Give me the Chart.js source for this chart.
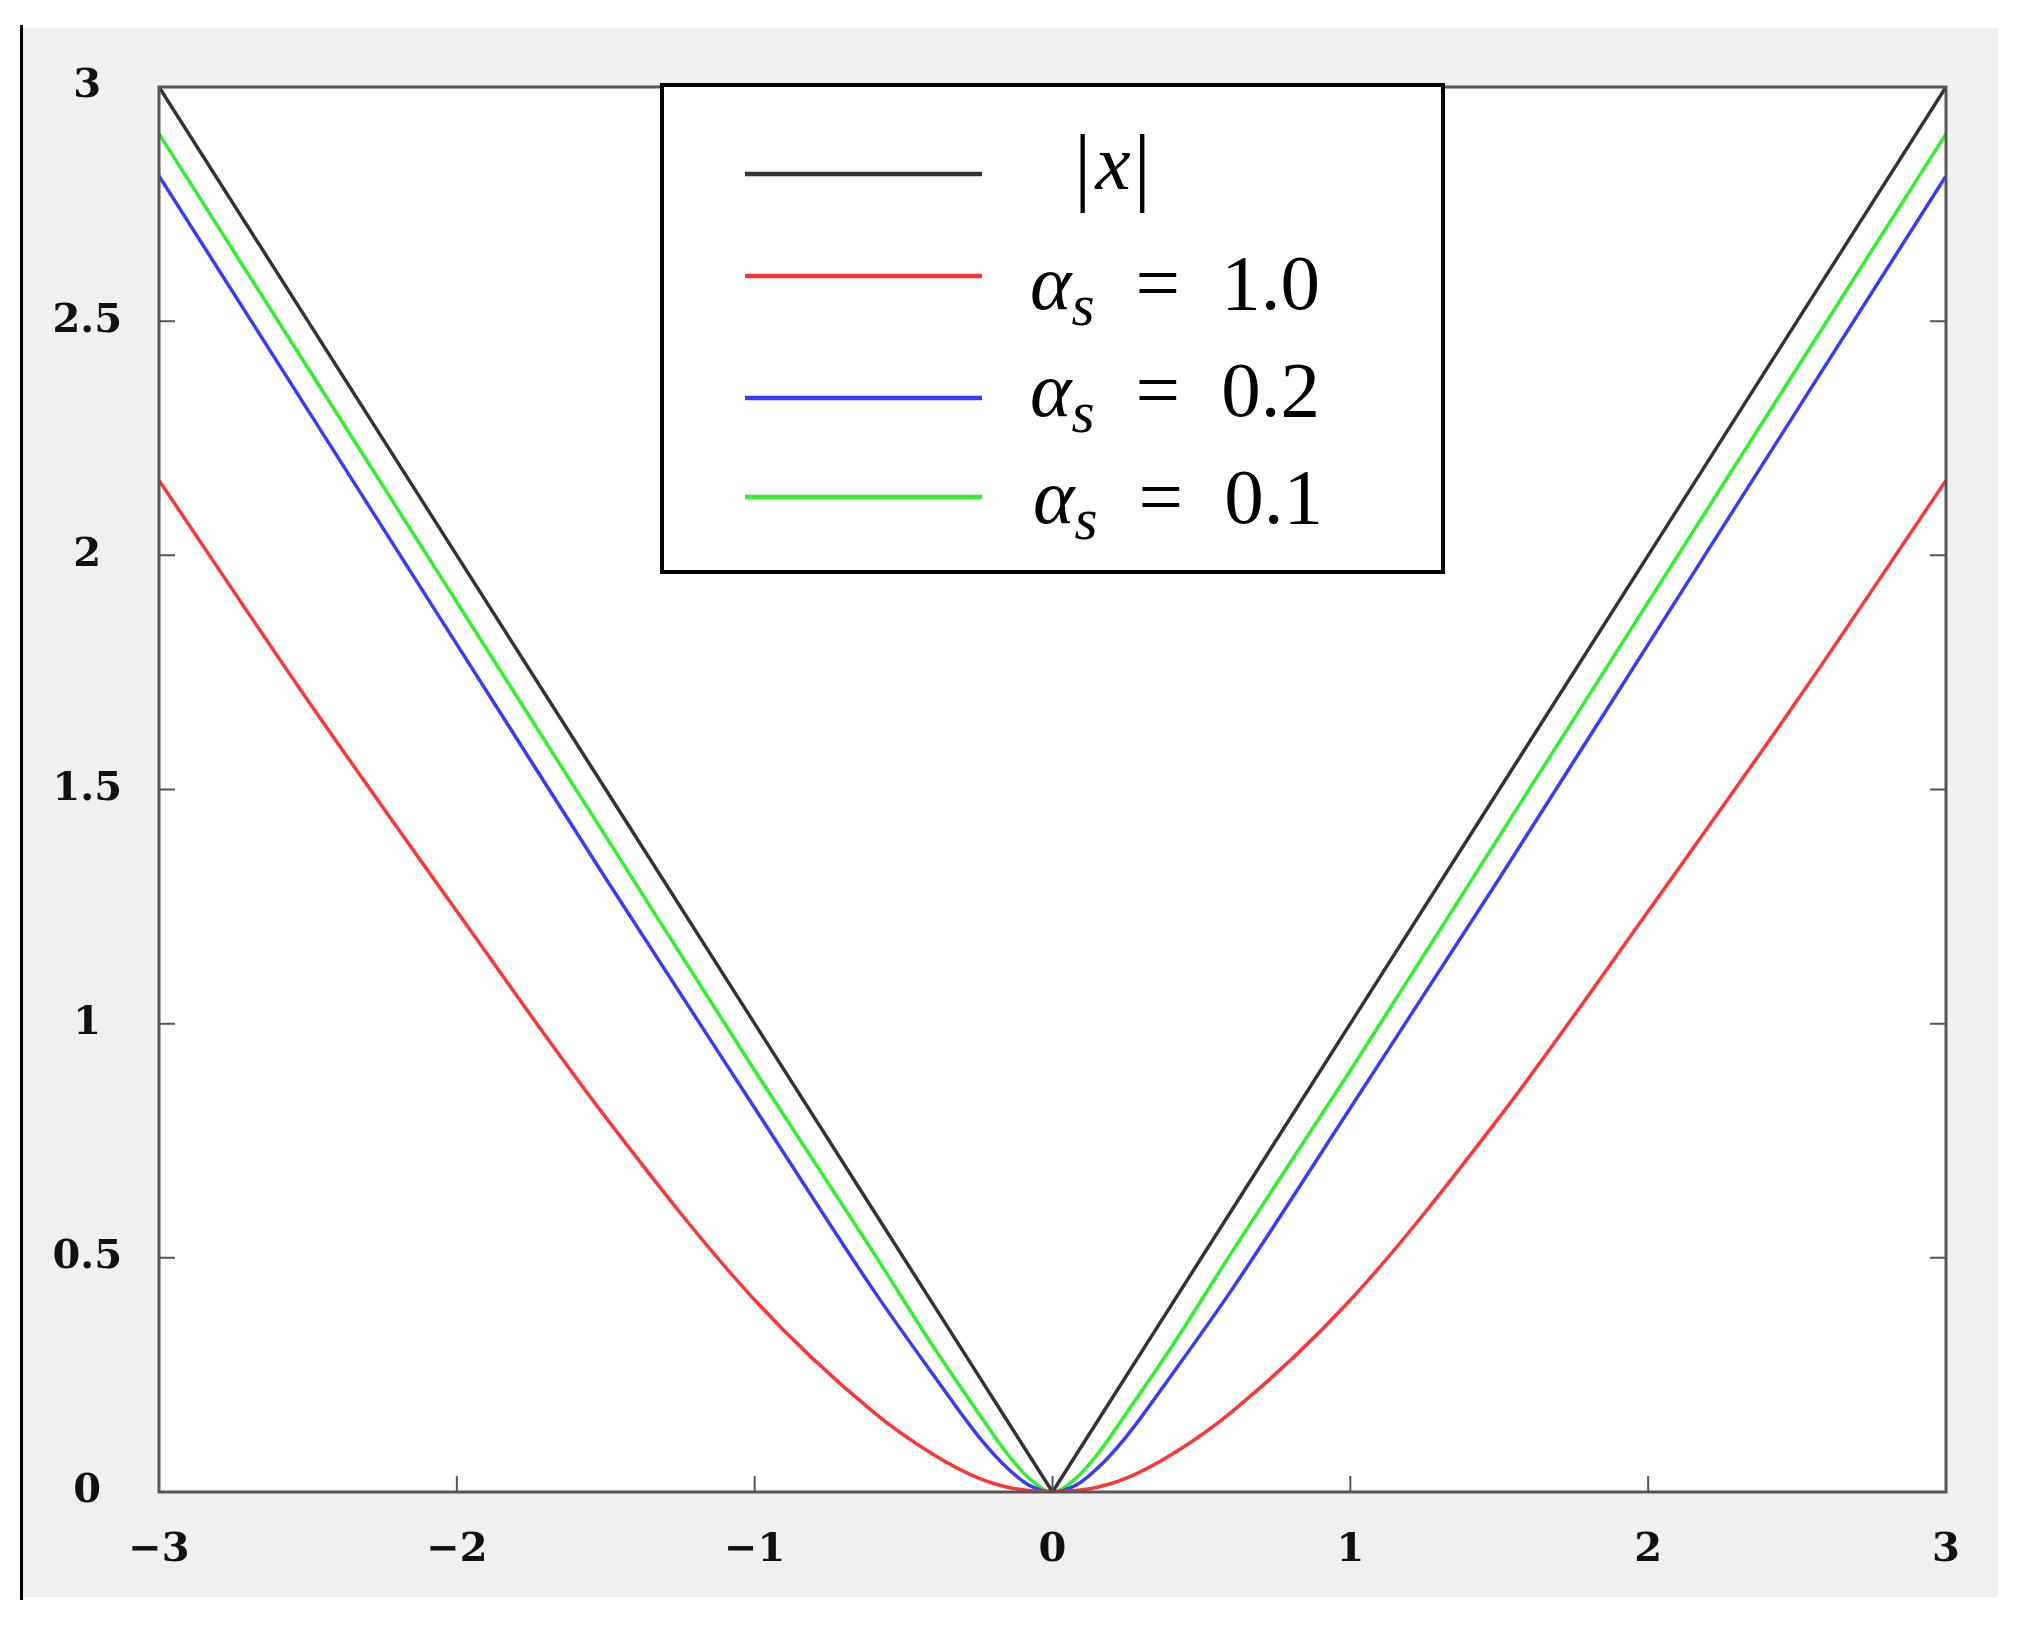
<!DOCTYPE html>
<html>
<head>
<meta charset="utf-8">
<script src="https://cdn.jsdelivr.net/npm/chart.js@4.4.1/dist/chart.umd.min.js"></script>
<style>
  html, body { margin: 0; padding: 0; background: #fff; }
  #contenedor { width: 2025px; height: 1633px; }
</style>
</head>
<body>
<div id="contenedor"><canvas id="grafico" width="2025" height="1633"></canvas></div>
<script>
// Valores
const xs = [-3, -2.5, -2, -1.5, -1, -0.6, -0.4, -0.25, -0.15, -0.08, 0, 0.08, 0.15, 0.25, 0.4, 0.6, 1, 1.5, 2, 2.5, 3];
const serieAbs = [3, 2.5, 2, 1.5, 1, 0.6, 0.4, 0.25, 0.15, 0.08, 0, 0.08, 0.15, 0.25, 0.4, 0.6, 1, 1.5, 2, 2.5, 3];
const serieA10 = [2.16, 1.69, 1.24, 0.80, 0.41, 0.17, 0.08, 0.03, 0.01, 0.003, 0, 0.003, 0.01, 0.03, 0.08, 0.17, 0.41, 0.80, 1.24, 1.69, 2.16];
const serieA02 = [2.81, 2.31, 1.81, 1.31, 0.82, 0.43, 0.25, 0.12, 0.05, 0.015, 0, 0.015, 0.05, 0.12, 0.25, 0.43, 0.82, 1.31, 1.81, 2.31, 2.81];
const serieA01 = [2.90, 2.40, 1.90, 1.40, 0.90, 0.51, 0.31, 0.17, 0.08, 0.03, 0, 0.03, 0.08, 0.17, 0.31, 0.51, 0.90, 1.40, 1.90, 2.40, 2.90];

const etiquetas = ['|x|', 'α_s = 1.0', 'α_s = 0.2', 'α_s = 0.1'];
const colores = ['#333333', '#ff3535', '#3a3aff', '#2ef02e'];
const xTicks = [-3, -2, -1, 0, 1, 2, 3];
const yTicks = [0, 0.5, 1, 1.5, 2, 2.5, 3];

const puntos = serie => xs.map((x, i) => ({ x: x, y: serie[i] }));

// Fondo gris y línea negra a la izquierda
const fondo = {
  id: 'fondo',
  beforeDraw(chart) {
    const c = chart.ctx, a = chart.chartArea;
    c.save();
    c.fillStyle = '#ffffff';
    c.fillRect(0, 0, chart.width, chart.height);
    c.fillStyle = '#f0f0f0';
    c.fillRect(21, 28, 1977, 1569);
    c.fillStyle = '#000000';
    c.fillRect(20, 25, 3, 1575);
    c.fillStyle = '#ffffff';
    c.fillRect(a.left, a.top, a.right - a.left, a.bottom - a.top);
    c.restore();
  }
};

// Marco y marcas hacia dentro
const marco = {
  id: 'marco',
  afterDatasetsDraw(chart) {
    const c = chart.ctx, a = chart.chartArea;
    const sx = chart.scales.x, sy = chart.scales.y;
    c.save();
    c.strokeStyle = '#555555';
    c.lineWidth = 2;
    c.beginPath();
    sx.ticks.forEach(t => {
      const px = sx.getPixelForValue(t.value);
      c.moveTo(px, a.bottom);
      c.lineTo(px, a.bottom - 16);
    });
    sy.ticks.forEach(t => {
      const py = sy.getPixelForValue(t.value);
      c.moveTo(a.left, py);
      c.lineTo(a.left + 16, py);
      c.moveTo(a.right, py);
      c.lineTo(a.right - 16, py);
    });
    c.stroke();
    c.lineWidth = 3;
    c.strokeRect(a.left, a.top, a.right - a.left, a.bottom - a.top);
    c.restore();
  }
};

// Texto con letras en cursiva y subíndice tras '_'
function dibujarTexto(c, texto, x, y, size) {
  let cx = x;
  for (let i = 0; i < texto.length; i++) {
    const ch = texto[i];
    if (ch === '_') {
      const sub = texto[i + 1];
      c.font = `italic ${size * 0.75}px "Liberation Serif"`;
      c.fillText(sub, cx, y + size * 0.2);
      cx += c.measureText(sub).width;
      i++;
      continue;
    }
    if (ch === ' ') { cx += size * 0.52; continue; }
    const cursiva = /[a-zA-Z\u03b1-\u03c9]/.test(ch);
    c.font = `${cursiva ? 'italic ' : ''}${size}px "Liberation Serif"`;
    if (ch === '|') {
      // barras más altas y algo separadas, como en la fórmula original
      c.save();
      c.font = `${size * 1.1}px "Liberation Serif"`;
      c.fillText(ch, cx + 3, y + size * 0.06);
      cx += c.measureText(ch).width + 7;
      c.restore();
      continue;
    }
    c.fillText(ch, cx, y);
    cx += c.measureText(ch).width;
  }
}

const leyenda = {
  id: 'leyenda',
  afterDraw(chart) {
    const c = chart.ctx;
    const lineasY = [174, 276, 398, 497];
    const basesY = [189, 309, 416, 523];
    const textoX = [1071, 1030, 1030, 1033];
    c.save();
    c.fillStyle = '#ffffff';
    c.fillRect(662, 85, 781, 487);
    c.strokeStyle = '#000000';
    c.lineWidth = 4;
    c.strokeRect(662, 85, 781, 487);
    chart.data.datasets.forEach((ds, i) => {
      c.strokeStyle = ds.borderColor;
      c.lineWidth = 4.5;
      c.beginPath();
      c.moveTo(745, lineasY[i]);
      c.lineTo(982, lineasY[i]);
      c.stroke();
      c.fillStyle = '#000000';
      c.textBaseline = 'alphabetic';
      dibujarTexto(c, ds.label, textoX[i], basesY[i], 79);
    });
    c.restore();
  }
};

const fuenteTicks = { family: '"DejaVu Serif"', size: 40, weight: 'bold' };

new Chart(document.getElementById('grafico').getContext('2d'), {
  type: 'line',
  data: {
    datasets: [serieAbs, serieA10, serieA02, serieA01].map((s, i) => ({
      label: etiquetas[i],
      data: puntos(s),
      borderColor: colores[i],
      borderWidth: 3.5,
      pointRadius: 0,
      fill: false,
      tension: 0,
      cubicInterpolationMode: i === 0 ? 'default' : 'monotone'
    }))
  },
  options: {
    responsive: false,
    animation: false,
    devicePixelRatio: 1,
    layout: { padding: { top: 87, right: 79, left: 0, bottom: 0 } },
    plugins: { legend: { display: false }, tooltip: { enabled: false } },
    scales: {
      x: {
        type: 'linear',
        min: -3, max: 3,
        grid: { display: false, drawTicks: false },
        border: { display: false },
        afterBuildTicks: s => { s.ticks = xTicks.map(v => ({ value: v })); },
        afterFit: s => { s.height = 141; },
        ticks: {
          font: fuenteTicks, color: '#111111', padding: 35, maxRotation: 0,
          callback: v => v < 0 ? '\u2212' + Math.abs(v) : String(v)
        }
      },
      y: {
        type: 'linear',
        min: 0, max: 3,
        grid: { display: false, drawTicks: false },
        border: { display: false },
        afterBuildTicks: s => { s.ticks = yTicks.map(v => ({ value: v })); },
        afterFit: s => { s.width = 159; },
        ticks: {
          font: fuenteTicks, color: '#111111', padding: 37, crossAlign: 'center',
          callback: v => String(v)
        }
      }
    }
  },
  plugins: [fondo, marco, leyenda]
});
</script>
</body>
</html>
